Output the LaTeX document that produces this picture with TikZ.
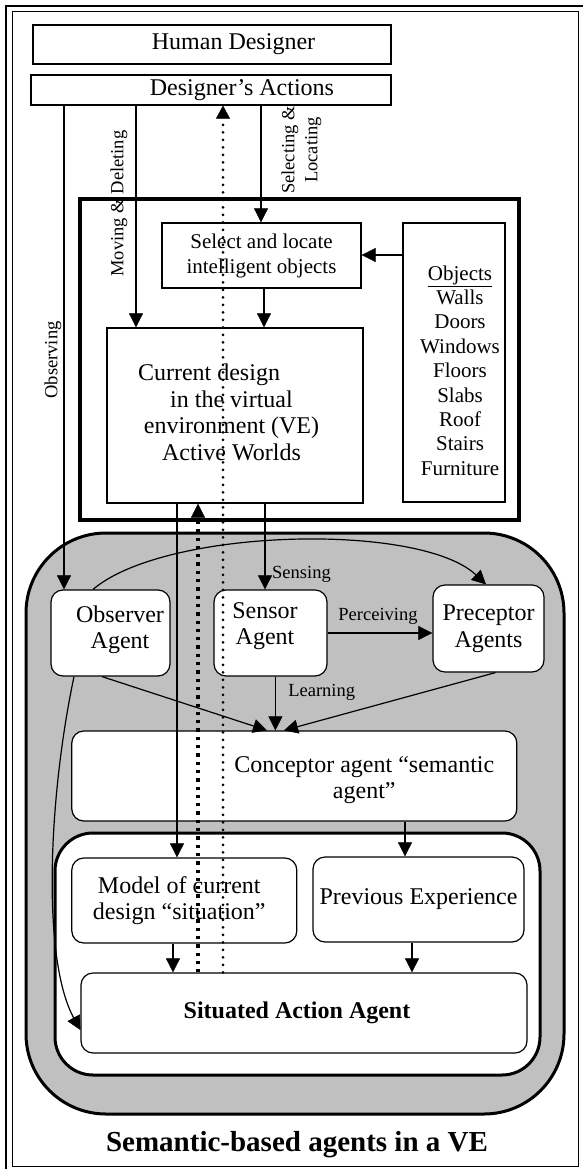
\documentclass[tikz,border=0pt]{standalone}
\usepackage{fontspec}
\setmainfont{Liberation Serif}
\usetikzlibrary{positioning,arrows.meta}
\definecolor{silver}{RGB}{192,192,192}
\newcommand\fmain{\fontsize{24}{26.5}\selectfont}
\newcommand\fobj{\fontsize{21}{24.4}\selectfont}
\newcommand\fsel{\fontsize{21}{25}\selectfont}
\newcommand\flab{\fontsize{18.5}{23}\selectfont}
\newcommand\ftitle{\fontsize{29}{33}\selectfont\bfseries}

\begin{document}
\begin{tikzpicture}[x=1pt,y=-1pt,
  box/.style={draw, line width=1.2pt, inner sep=0pt, font=\fmain, align=center},
  agent/.style={box, rounded corners=12pt, fill=white},
  txt/.style={font=\fmain, align=center},
  arr/.style={line width=1.2pt, -{Triangle[length=14pt,width=14pt,line width=0.5pt]}},
  lab/.style={font=\flab, inner sep=0pt},
  vlab/.style={font=\flab, rotate=90, align=center, inner sep=0pt},
  fatdots/.style={line width=3.3pt, dash pattern=on 3.3pt off 5pt, -{Triangle[length=14pt,width=14pt,line width=0.5pt]}},
  thindots/.style={line width=3pt, line cap=round, dash pattern=on 0pt off 7.5pt, -{Triangle[length=13pt,width=14pt,line width=0.5pt]}}]
\useasboundingbox (0,0) rectangle (582,1169);
\draw[line width=2pt] (6,6) rectangle (600,1190);
\draw[line width=1pt] (12,12) rectangle (578,1166.5);

\node[box, line width=2pt, minimum width=358pt, minimum height=39pt, label={[txt, xshift=21.5pt]center:Human Designer}] (human) at (212,44.5) {};
\node[box, minimum width=360pt, minimum height=30pt, label={[txt, xshift=31pt]center:Designer’s Actions}] (actions) at (211,90) {};

\node[box, line width=3.5pt, minimum width=439pt, minimum height=321pt] (ve) at (299.5,359.5) {};
\node[box, font=\fsel, minimum width=199pt, minimum height=65pt] (select) at (261.5,255.5) {Select and locate\\intelligent objects};
\node[box, minimum width=102pt, minimum height=279pt, label={[txt, font=\fobj, xshift=6pt, yshift=-8pt]center:\underline{Objects}\\Walls\\Doors\\Windows\\Floors\\Slabs\\Roof\\Stairs\\Furniture}] (objects) at (454,362.5) {};
\node[box, minimum width=256pt, minimum height=175pt, label={[txt, xshift=-3.5pt, yshift=3pt]center:Current design\hspace*{45pt}\\in the virtual\\environment (VE)\\Active Worlds}] (current) at (235,415.5) {};

\node[draw, line width=3pt, fill=silver, rounded corners=80pt, minimum width=538pt, minimum height=581pt] (semantic) at (295,823.5) {};
\node[draw, line width=3pt, fill=white, rounded corners=38pt, minimum width=485pt, minimum height=242pt] (situation) at (297.5,954) {};

\node[agent, minimum width=119pt, minimum height=86pt, label={[txt, xshift=9.5pt, yshift=3pt]center:Observer\\Agent}] (observer) at (110.5,633) {};
\node[agent, minimum width=113pt, minimum height=86pt, label={[txt, xshift=-5.5pt, yshift=7pt]center:Sensor\\Agent}] (sensor) at (270.5,633) {};
\node[agent, minimum width=111pt, minimum height=87pt] (preceptor) at (488.5,628.5) {Preceptor\\Agents};
\node[agent, minimum width=445pt, minimum height=90pt, label={[txt, xshift=70pt, yshift=-4pt]center:Conceptor agent “semantic\\agent”}] (conceptor) at (294.3,776) {};
\node[agent, minimum width=225pt, minimum height=85pt, label={[txt, xshift=-5pt]center:Model of current\\design “situation”}] (model) at (184.3,900.5) {};
\node[agent, minimum width=211pt, minimum height=85pt] (previous) at (418.5,899.5) {Previous Experience};
\node[agent, minimum width=446pt, minimum height=80pt, label={[txt, font=\fmain\bfseries, xshift=-7pt]center:Situated Action Agent}] (situated) at (304,1013) {};

\node[font=\ftitle] (title) at (297,1145) {Semantic-based agents in a VE};

\node[vlab] (observing) at (53,360) {Observing};
\node[vlab] (moving) at (119,203.5) {Moving \& Deleting};
\node[vlab] (selecting) at (301.5,150) {Selecting \&\\Locating};
\node[lab] (sensing) at (301.5,574) {Sensing};
\node[lab] (perceiving) at (378,616) {Perceiving};
\node[lab] (learning) at (321.7,692) {Learning};

\draw[arr] (actions.south -| 64,0) -- (observer.north -| 64,0);
\draw[arr] (actions.south -| 136,0) -- (current.north -| 136,0);
\draw[arr] (actions.south -| 261,0) -- (select.north -| 261,0);
\draw[arr] (select.south -| 264,0) -- (current.north -| 264,0);
\draw[arr] (objects.west |- 0,255) -- (select.east |- 0,255);
\draw[arr] (current.south -| 265,0) -- (sensor.north -| 265,0);
\draw[arr] (sensor.east |- 0,633) -- (preceptor.west |- 0,633);
\draw[arr] (sensor.south -| 275.4,0) -- (conceptor.north -| 275.4,0);
\draw[arr] (observer.south -| 102,0) -- (conceptor.north -| 267,0);
\draw[arr] (preceptor.south -| 495.5,0) -- (conceptor.north -| 284,0);
\draw[arr] (observer.north -| 93,0) .. controls (165,528) and (420,522) .. (preceptor.north -| 486,0);
\draw[arr] (observer.south -| 74,0) .. controls (48,800) and (42,960) .. (situated.west |- 0,1030);
\draw[arr] (current.south -| 177,0) -- (model.north -| 177,0);
\draw[arr] (conceptor.south -| 405,0) -- (previous.north -| 405,0);
\draw[arr] (model.south -| 173,0) -- (situated.north -| 173,0);
\draw[arr] (previous.south -| 412,0) -- (situated.north -| 412,0);
\draw[fatdots] (situated.north -| 198,0) -- (current.south -| 198,0);
\draw[thindots] (situated.north -| 223,0) -- (actions.south -| 223,0);
\end{tikzpicture}
\end{document}
